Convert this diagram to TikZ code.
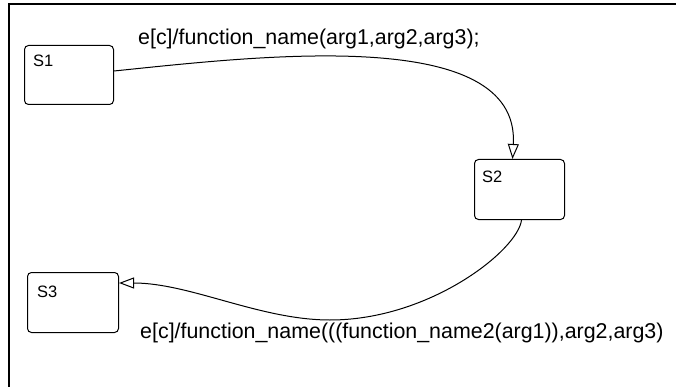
\documentclass[tikz,border=0pt]{standalone}
\usepackage{fontspec}
\setmainfont{Liberation Sans}
\usetikzlibrary{arrows.meta,calc}
\begin{document}
\begin{tikzpicture}[x=1pt,y=-1pt,
  statebox/.style={draw=black, line width=1pt, rounded corners=4pt, inner sep=0pt, anchor=north west},
  statelabel/.style={anchor=base west, inner sep=0pt, font=\fontsize{16.5}{19}\selectfont},
  translabel/.style={anchor=base west, inner sep=0pt, font=\fontsize{21.4}{25}\selectfont},
  trans/.style={draw=black, line width=1pt, -{Triangle[open,length=15pt,width=11pt]}},
  frameline/.style={line width=2pt}]
\useasboundingbox (0,0) rectangle (676,387);
\draw[frameline] (676,4.5) -- (8.5,4.5) -- (8.5,387);
% states
\node[statebox, minimum width=89pt, minimum height=59pt] (s1) at (24,45) {};
\node[statebox, minimum width=90pt, minimum height=60pt] (s2) at (474,159) {};
\node[statebox, minimum width=91pt, minimum height=60pt] (s3) at (27,272) {};
\node[statelabel] (s1t) at ($(s1.north west)+(9,22)$) {S1};
\node[statelabel] (s2t) at ($(s2.north west)+(8,24)$) {S2};
\node[statelabel] (s3t) at ($(s3.north west)+(10,25)$) {S3};
% connector end points
\coordinate (a1) at ($(s1.north east)+(0,26)$);
\coordinate (b1) at ($(s2.north)+(-7,0)$);
\coordinate (c2) at ($(s2.south)+(2,0)$);
\coordinate (d2) at ($(s3.north east)+(0,11)$);
\draw[trans] (a1) .. controls (260,56) and (520,25) .. (b1);
\draw[trans] (c2) .. controls (518,250) and (430,320) .. (330,320)
                  .. controls (260,320) and (190,283) .. (d2);
% labels
\node[translabel] (l1) at (138,45) {e[c]/function\_name(arg1,arg2,arg3);};
\node[translabel] (l2) at (140,338) {e[c]/function\_name(((function\_name2(arg1)),arg2,arg3)};
\end{tikzpicture}
\end{document}
